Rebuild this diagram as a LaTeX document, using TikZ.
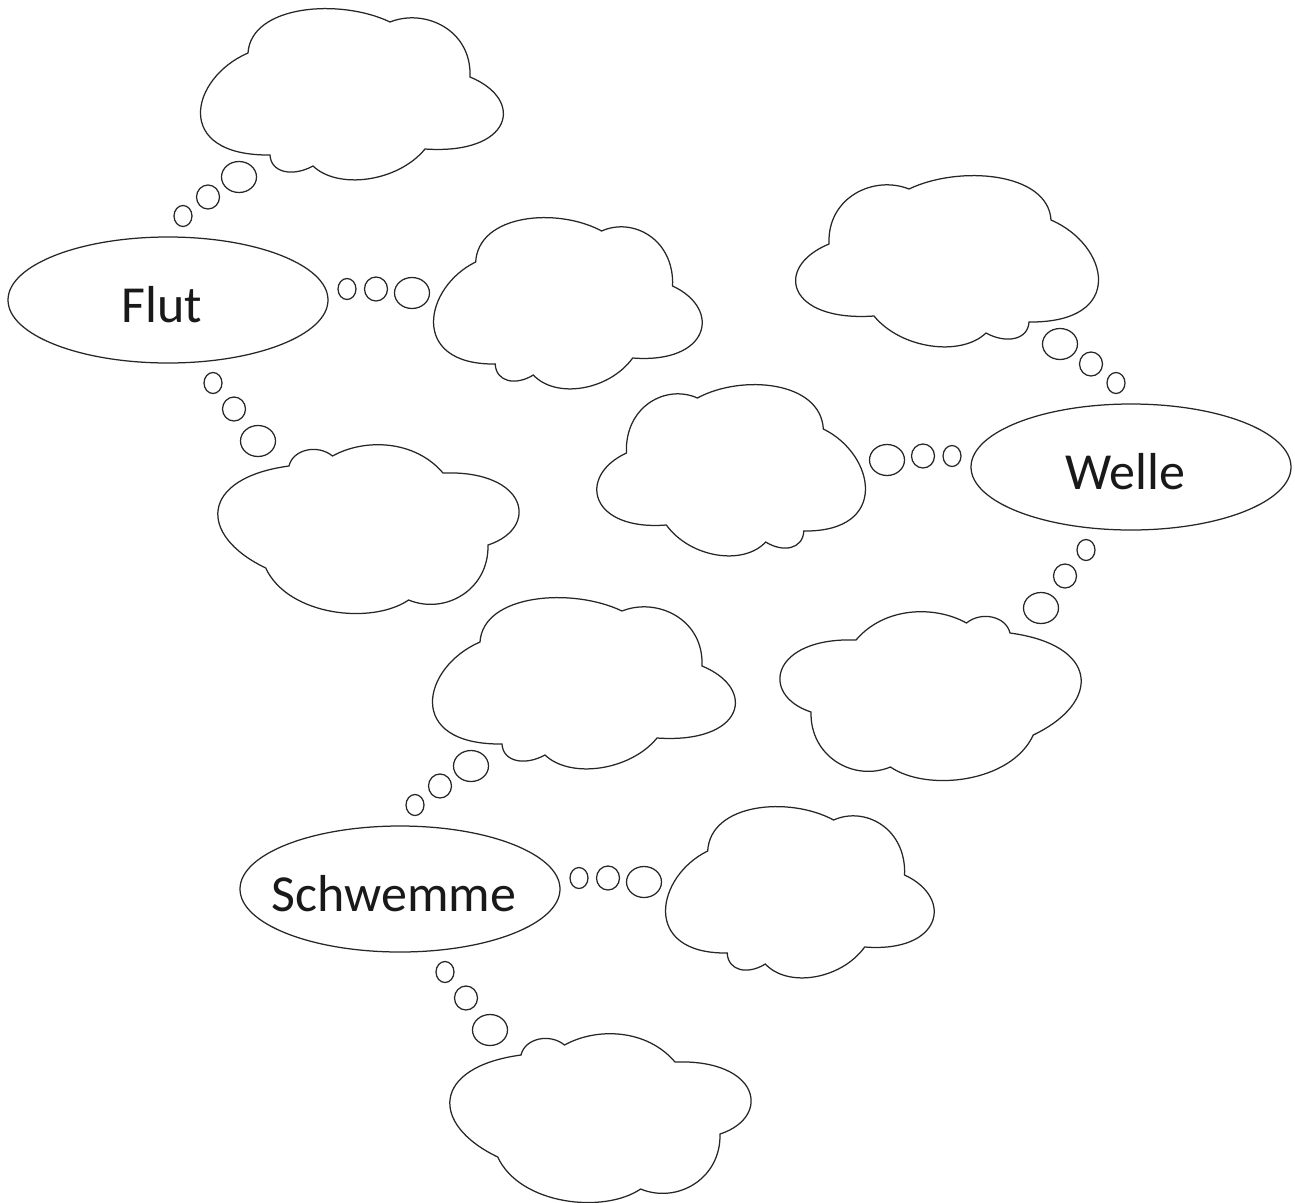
\documentclass[tikz,border=0pt]{standalone}
\usepackage{fontspec}
\setmainfont{Carlito}
\usetikzlibrary{shapes.geometric}
\tikzset{
  outline/.style={draw=black!85, line width=1.25pt},
  cloudpath/.style={outline, fill=white, line join=miter},
  bigoval/.style={ellipse, outline, minimum width=320pt, minimum height=126pt, inner sep=0pt},
  bubs/.style={ellipse, outline, minimum width=18pt, minimum height=21pt, inner sep=0pt},
  bubm/.style={ellipse, outline, minimum width=23pt, minimum height=24pt, inner sep=0pt},
  bubl/.style={ellipse, outline, minimum width=35pt, minimum height=31pt, inner sep=0pt},
  word/.style={font=\fontsize{52}{60}\selectfont, text=black!90, anchor=base, inner sep=0pt},
}
% cloud shape A (six lobes)
\newcommand\cloudA{%
  (248,53) .. controls (251,5) and (340,-2) .. (390,22)
  .. controls (425,8) and (472,30) .. (470,77)
  .. controls (526,100) and (512,155) .. (425,149)
  .. controls (398,182) and (338,190) .. (313,166)
  .. controls (293,177) and (271,173) .. (270,155)
  .. controls (172,156) and (190,78) .. (248,53) -- cycle}
% cloud shape B (six lobes)
\newcommand\cloudB{%
  (289,466) .. controls (293,449) and (318,444) .. (332.5,456)
  .. controls (365,438) and (415,440) .. (443,473)
  .. controls (528,470) and (540,528) .. (488,545)
  .. controls (489,590) and (445,615) .. (408.6,600)
  .. controls (372,625) and (288,616) .. (265.7,568)
  .. controls (197,535) and (200,478) .. (289,466) -- cycle}
% one word with its three thought trails and clouds
\newcommand\wordgroup[1]{%
  \node[bigoval] (#1) at (168,300) {};
  \coordinate (#1-cu) at (352,94);
  \coordinate (#1-cr) at (567,302);
  \coordinate (#1-cd) at (369,528);
  \draw[cloudpath] \cloudA;
  \begin{scope}[shift={(255.7,209)}, xscale=0.887]
    \draw[cloudpath] \cloudA;
  \end{scope}
  \draw[cloudpath] \cloudB;
  \node[bubs] (#1-u1) at (183,216) {};
  \node[bubm] (#1-u2) at (208,197) {};
  \node[bubl] (#1-u3) at (239,177) {};
  \node[bubs] (#1-r1) at (347,289) {};
  \node[bubm] (#1-r2) at (376,289) {};
  \node[bubl] (#1-r3) at (412,293) {};
  \node[bubs] (#1-d1) at (213,383) {};
  \node[bubm] (#1-d2) at (234,409) {};
  \node[bubl] (#1-d3) at (258,441) {};
}
\begin{document}
\begin{tikzpicture}[x=1pt, y=-1pt]
  \fill[white] (0,0) rectangle (1295,1202);
  \useasboundingbox (0,0) rectangle (1295,1202);
  \wordgroup{flut}
  \begin{scope}[shift={(1299,167)}, xscale=-1]
    \wordgroup{welle}
  \end{scope}
  \begin{scope}[shift={(232,589)}]
    \wordgroup{schwemme}
  \end{scope}
  \node[word] (flut-label) at ([xshift=-6pt,yshift=-22pt]flut.center) {Flut};
  \node[word] (welle-label) at ([xshift=-6pt,yshift=-22pt]welle.center) {Welle};
  \node[word] (schwemme-label) at ([xshift=-6pt,yshift=-22pt]schwemme.center) {Schwemme};
\end{tikzpicture}
\end{document}
